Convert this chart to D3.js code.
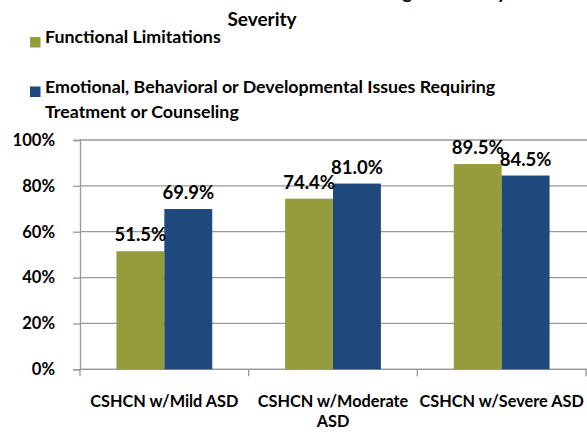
<!DOCTYPE html>
<html><head><meta charset="utf-8">
<script src="https://cdn.jsdelivr.net/npm/d3@7"></script>
<style>body{margin:0;background:#fff}svg{display:block}text{font-family:Lato,"Open Sans",sans-serif;font-weight:bold;fill:#000}</style>
</head><body><svg id="c" width="587" height="432"></svg>
<script>
const categories = ["CSHCN w/Mild ASD", "CSHCN w/Moderate ASD", "CSHCN w/Severe ASD"];
const seriesNames = ["Functional Limitations", "Emotional, Behavioral or Developmental Issues Requiring Treatment or Counseling"];
const functionalLimitations = [51.5, 74.4, 89.5];
const emotionalIssues = [69.9, 81.0, 84.5];
const yTicks = [0, 20, 40, 60, 80, 100];
const titleLines = ["Functional Limitations and Emotional Needs Among CSHCN by ASD", "Severity"];
const colors = ["#969B3B", "#1F497D"];

const svg = d3.select("#c");
const M = {left: 80, right: 586, top: 140, bottom: 369.3};
const x0 = d3.scaleBand().domain(categories).range([M.left, M.right]).padding(0);
const x1 = d3.scaleBand().domain(seriesNames).range([x0.bandwidth()*0.216, x0.bandwidth()*0.784]).padding(0);
const y = d3.scaleLinear().domain([0, 100]).range([M.bottom, M.top]);

// title
svg.append("g").selectAll("text").data(titleLines).join("text")
  .attr("x", 262).attr("y", (d,i) => -1 + i*27).attr("text-anchor","middle")
  .style("font-size","19px").text(d => d);

// legend
const leg = svg.append("g");
const legRows = [{y: 43, lines: [seriesNames[0]]},
                 {y: 92.5, lines: ["Emotional, Behavioral or Developmental Issues Requiring", "Treatment or Counseling"]}];
legRows.forEach((r, i) => {
  leg.append("rect").attr("x", 30).attr("y", r.y - 6).attr("width", 10.5).attr("height", 10.5).attr("fill", colors[i]);
  r.lines.forEach((l, j) => leg.append("text").attr("x", 45).attr("y", r.y + j*25.5).style("font-size","17.8px").text(l));
});

// grid
svg.append("g").selectAll("line").data(yTicks).join("line")
  .attr("x1", M.left).attr("x2", 587).attr("y1", d => y(d)).attr("y2", d => y(d))
  .attr("stroke", "#999").attr("stroke-width", 1.3);

// y axis
const ya = svg.append("g").attr("transform", `translate(${M.left},0)`)
  .call(d3.axisLeft(y).tickValues(yTicks).tickFormat(d => d + "%").tickSize(7).tickPadding(18));
ya.select(".domain").attr("stroke", "#999").attr("stroke-width", 1.3);
ya.selectAll(".tick line").attr("stroke", "#999").attr("stroke-width", 1.3);
ya.selectAll("text").attr("font-family", null).attr("font-size", null)
  .style("font-size","16.6px").style("font-family","Lato").style("font-weight","bold").attr("fill","#000");

// x axis boundary ticks
const bounds = categories.map(c => x0(c)).concat([M.right]);
svg.append("g").selectAll("line").data(bounds).join("line")
  .attr("x1", d => d).attr("x2", d => d).attr("y1", M.bottom).attr("y2", M.bottom + 7)
  .attr("stroke", "#999").attr("stroke-width", 1.3);
svg.append("line").attr("x1", M.left).attr("x2", 587).attr("y1", M.bottom).attr("y2", M.bottom)
  .attr("stroke", "#999").attr("stroke-width", 1.3);

// bars
const data = categories.map((c, i) => ({c, vals: [functionalLimitations[i], emotionalIssues[i]]}));
const g = svg.append("g").selectAll("g").data(data).join("g").attr("transform", d => `translate(${x0(d.c)},0)`);
g.selectAll("rect").data(d => d.vals.map((v, k) => ({v, s: seriesNames[k], k}))).join("rect")
  .attr("x", d => x1(d.s)).attr("width", x1.bandwidth()).attr("y", d => y(d.v)).attr("height", d => y(0) - y(d.v))
  .attr("fill", d => colors[d.k]);
g.selectAll("text.v").data(d => d.vals.map((v, k) => ({v, s: seriesNames[k], k}))).join("text")
  .attr("class","v").attr("x", d => x1(d.s) + x1.bandwidth()/2).attr("y", d => y(d.v) - 10)
  .attr("text-anchor","middle").style("font-size","18.5px").text(d => d.v.toFixed(1) + "%");

// x labels with wrapping
svg.append("g").selectAll("text").data(categories).join("text")
  .attr("x", d => x0(d) + x0.bandwidth()/2).attr("y", 406.5).attr("text-anchor","middle")
  .style("font-size","16.3px")
  .each(function(d){
    const t = d3.select(this);
    const words = d.split(" ");
    let line = [], lines = [];
    const tmp = t.append("tspan");
    words.forEach(w => {
      line.push(w); tmp.text(line.join(" "));
      if (tmp.node().getComputedTextLength() > 168 && line.length > 1) { line.pop(); lines.push(line.join(" ")); line = [w]; }
    });
    lines.push(line.join(" ")); tmp.remove();
    lines.forEach((l, i) => t.append("tspan").attr("x", x0(d) + x0.bandwidth()/2).attr("dy", i ? 20.5 : 0).text(l));
  });
</script></body></html>
